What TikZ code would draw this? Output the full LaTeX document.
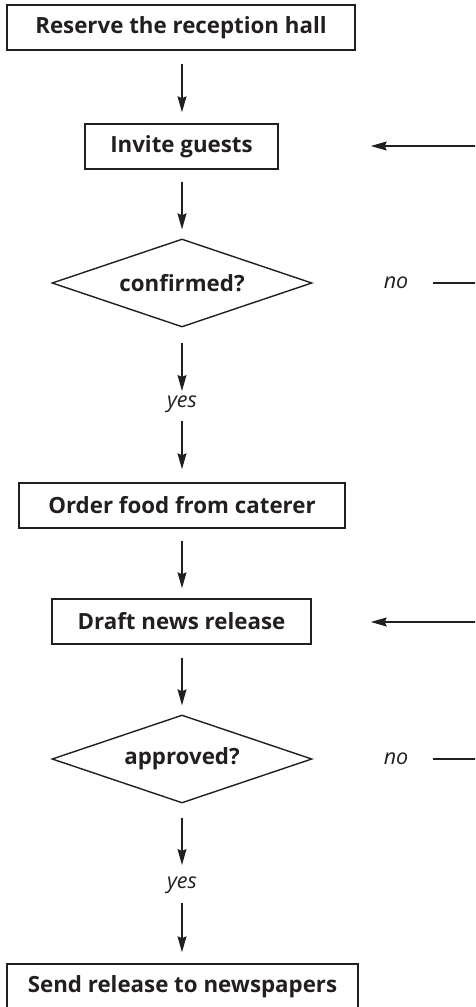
\documentclass[tikz,border=0pt]{standalone}
\usepackage{fontspec}
\setmainfont{Open Sans}
\usetikzlibrary{arrows.meta,shapes.geometric}
\definecolor{ink}{HTML}{231F20}
\tikzset{
  stepbox/.style={draw=ink,line width=1.5pt,text=ink,minimum height=45pt,inner sep=0pt,font=\fontsize{22.3}{26}\selectfont\bfseries},
  decision/.style={diamond,draw=ink,line width=1.4pt,text=ink,minimum width=260pt,minimum height=88pt,inner sep=0pt,aspect=2.95,font=\fontsize{22.3}{26}\selectfont\bfseries},
  answer/.style={text=ink,inner sep=0pt,font=\fontsize{21.5}{26}\selectfont\itshape},
  flow/.style={draw=ink,line width=1.2pt,-{Stealth[length=16pt,width=9pt,inset=2pt]}},
  plain/.style={draw=ink,line width=1.2pt}
}
\begin{document}
\begin{tikzpicture}[x=1pt,y=-1pt]
\useasboundingbox (0,0) rectangle (475,1007);
\clip (0,0) rectangle (475,1007);
\node[stepbox,minimum width=348pt] (hall) at (181,27.5) {Reserve the reception hall};
\node[stepbox,minimum width=193pt] (invite) at (181.5,146.5) {Invite guests};
\node[decision] (conf) at (182,283) {confirmed?};
\node[answer] (yes1) at (182,404) {yes};
\node[answer] (no1) at (396,283) {no};
\node[stepbox,minimum width=326pt] (food) at (182,505.5) {Order food from caterer};
\node[stepbox,minimum width=259pt] (draft) at (181.5,621.5) {Draft news release};
\node[decision] (appr) at (182,759) {approved?};
\node[answer] (yes2) at (182,885) {yes};
\node[answer] (no2) at (396,759) {no};
\node[stepbox,minimum width=351pt] (send) at (182.5,986.5) {Send release to newspapers};
\coordinate (r1) at (476,146);
\coordinate (r2) at (476,622);
\coordinate (e1) at (476,283);
\coordinate (e2) at (476,759);

\draw[flow,shorten <=13pt,shorten >=11pt] (hall.south -| 182,0) -- (invite.north -| 182,0);
\draw[flow,shorten <=12pt,shorten >=9pt] (invite.south -| 182,0) -- (conf.north);
\draw[flow,shorten <=15pt,shorten >=13pt] (conf.south) -- (yes1.center);
\draw[flow,shorten <=17pt,shorten >=13pt] (yes1.center) -- (food.north);
\draw[flow,shorten <=12pt,shorten >=10pt] (food.south) -- (draft.north -| 182,0);
\draw[flow,shorten <=13pt,shorten >=9pt] (draft.south -| 182,0) -- (appr.north);
\draw[flow,shorten <=14pt,shorten >=20pt] (appr.south) -- (yes2.center);
\draw[flow,shorten <=18pt,shorten >=11pt] (yes2.center) -- (send.north -| 182,0);
\draw[plain,shorten <=37pt] (no1.center) -- (e1);
\draw[plain,shorten <=37pt] (no2.center) -- (e2);
\draw[flow,shorten >=92pt] (r1) -- (invite.east |- r1);
\draw[flow,shorten >=59pt] (r2) -- (draft.east |- r2);
\end{tikzpicture}
\end{document}
